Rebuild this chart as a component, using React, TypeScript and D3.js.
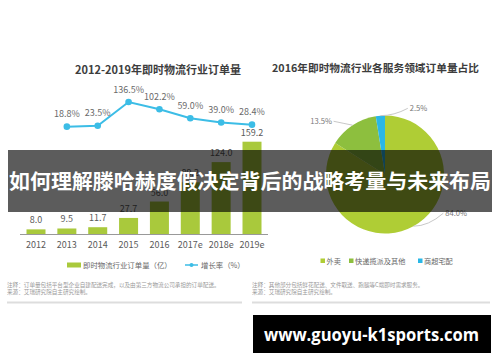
import React from "react";
import * as d3 from "d3";

const years = ["2012", "2013", "2014", "2015", "2016", "2017e", "2018e", "2019e"];
const orders = [8.0, 9.5, 11.7, 27.7, 56.0, 89.2, 124.0, 159.2];
const growthYears = ["2013", "2014", "2015", "2016", "2017e", "2018e", "2019e"];
const growth = [18.8, 23.5, 136.5, 102.2, 59.0, 39.0, 28.4];

const pieLabels = ["外卖", "快递揽派及其他", "商超宅配"];
const pieValues = [84.0, 13.5, 2.5];

const leftTitle = "2012-2019年即时物流行业订单量";
const rightTitle = "2016年即时物流行业各服务领域订单量占比";
const legendBar = "即时物流行业订单量（亿）";
const legendLine = "增长率（%）";
const bannerText = "如何理解滕哈赫度假决定背后的战略考量与未来布局";
const watermark = "www.guoyu-k1sports.com";
const notesLeft = ["注释：订单量包括平台型企业自建配送完成，以及由第三方物流公司承担的订单配送。", "来源：艾瑞研究院自主研究绘制。"];
const notesRight = ["注释：其他部分包括鲜花配送、文件取送、跑腿等C端即时需求服务。", "来源：艾瑞研究院自主研究绘制。"];

const FONT = "'Noto Sans CJK SC', 'Noto Sans', sans-serif";
const BAR = "#a9c93c";
const LINE = "#3cbde6";
const PIE_COLORS = ["#afcd35", "#8dbf3e", "#2ab7e6"];
const LABEL_ANGLES = [123.6, 316, 19];
const LABEL_R = [70, 74, 70];

export default function App() {
  const x = d3.scalePoint<string>().domain(years).range([36, 252]);
  const yBar = d3.scaleLinear().domain([0, 159.2]).range([234, 141.7]);
  const yLine = d3.scaleLinear().domain([0, 136.5]).range([130.6, 102]);
  const barW = 19;

  const line = d3
    .line<number>()
    .x((_, i) => x(growthYears[i]) as number)
    .y((d) => yLine(d));

  const cx = 385, cy = 174.5, r = 59;
  const pie = d3.pie<number>().sort(null).value((d) => d);
  const arcs = pie(pieValues);
  const arc = d3.arc<d3.PieArcDatum<number>>().innerRadius(0).outerRadius(r);
  const polar = (deg: number, rad: number) => {
    const a = (deg * Math.PI) / 180;
    return [cx + rad * Math.sin(a), cy - rad * Math.cos(a)];
  };

  return (
    <svg width={500} height={362} style={{ position: "absolute", left: 0, top: 0, background: "#fff" }} fontFamily={FONT}>
      <rect width={500} height={362} fill="#fff" />
      {/* Left title */}
      <text x={158} y={74} textAnchor="middle" fontSize={11} fontWeight="bold" fill="#3d3d3d">{leftTitle}</text>
      {/* Axis */}
      <line x1={20} x2={268} y1={234.5} y2={234.5} stroke="#999" strokeWidth={1} />
      {years.map((yr, i) => (
        <g key={yr}>
          <rect x={(x(yr) as number) - barW / 2} y={yBar(orders[i])} width={barW} height={234 - yBar(orders[i])} fill={BAR} />
          <text x={x(yr)} y={yBar(orders[i]) - 6} textAnchor="middle" fontSize={9} fill="#5a5a5a">{orders[i].toFixed(1)}</text>
          <text x={x(yr)} y={248} textAnchor="middle" fontSize={9} fill="#5a5a5a">{yr}</text>
        </g>
      ))}
      <path d={line(growth) as string} fill="none" stroke={LINE} strokeWidth={2} />
      {growth.map((g, i) => (
        <g key={i}>
          <circle cx={x(growthYears[i])} cy={yLine(g)} r={3.3} fill={LINE} />
          <text x={x(growthYears[i])} y={yLine(g) - 9.5} textAnchor="middle" fontSize={9} fill="#6a6a6a">{g.toFixed(1)}%</text>
        </g>
      ))}
      {/* Left legend */}
      <rect x={67} y={262.5} width={14} height={5} fill={BAR} />
      <text x={83} y={267.5} fontSize={7.4} fill="#666">{legendBar}</text>
      <line x1={185} x2={198} y1={265} y2={265} stroke={LINE} strokeWidth={1.5} />
      <circle cx={191.5} cy={265} r={2} fill={LINE} />
      <text x={201} y={267.5} fontSize={7.4} fill="#666">{legendLine}</text>

      {/* Right title */}
      <text x={375.5} y={72} textAnchor="middle" fontSize={10.7} fontWeight="bold" fill="#3d3d3d">{rightTitle}</text>
      <g transform={`translate(${cx},${cy})`}>
        {arcs.map((a, i) => (
          <path key={i} d={arc(a) as string} fill={PIE_COLORS[i]} />
        ))}
      </g>
      {arcs.map((a, i) => {
        const mid = (((a.startAngle + a.endAngle) / 2) * 180) / Math.PI;
        const [sx, sy] = polar(mid, r);
        const [ex, ey] = polar(LABEL_ANGLES[i], LABEL_R[i]);
        const right = ex > cx;
        return (
          <g key={i}>
            <path d={`M${sx},${sy}Q${(sx + ex) / 2},${right ? Math.max(sy, ey) : Math.min(sy, ey) + 2} ${ex},${ey}`} fill="none" stroke="#c8c8c8" strokeWidth={1} />
            <text x={right ? ex + 2 : ex - 1.5} y={ey + 2.5} textAnchor={right ? "start" : "end"} fontSize={7.6} fill="#777">{pieValues[i].toFixed(1)}%</text>
          </g>
        );
      })}
      {/* Right legend */}
      {(() => {
        const starts = [320.5, 349, 418];
        return pieLabels.map((l, i) => (
          <g key={l}>
            <rect x={starts[i]} y={258.5} width={4.5} height={4.5} fill={PIE_COLORS[i]} />
            <text x={starts[i] + 6} y={263.5} fontSize={7.2} fill="#666">{l}</text>
          </g>
        ));
      })()}

      {/* Notes */}
      {notesLeft.map((t, i) => (
        <text key={i} x={7} y={287 + i * 6.5} fontSize={5.6} fill="#999">{t}</text>
      ))}
      {notesRight.map((t, i) => (
        <text key={i} x={252} y={287 + i * 6.5} fontSize={5.6} fill="#999">{t}</text>
      ))}
      <rect x={7} y={301.5} width={235} height={2} fill="#ddd" />
      <rect x={252} y={301.5} width={238} height={2} fill="#ddd" />

      {/* Banner */}
      <rect x={8} y={150} width={484} height={62} fill="rgba(0,0,0,0.64)" />
      <text x={250} y={189} textAnchor="middle" fontSize={20} fontWeight="bold" fill="#fff" textLength={482} lengthAdjust="spacingAndGlyphs">{bannerText}</text>

      {/* Watermark */}
      <rect x={253} y={315} width={238} height={38} fill="#000" />
      <text x={264} y={341} fontSize={18} fontWeight="bold" fill="#fff" fontFamily="'Open Sans', sans-serif" textLength={215} lengthAdjust="spacingAndGlyphs">{watermark}</text>
    </svg>
  );
}
